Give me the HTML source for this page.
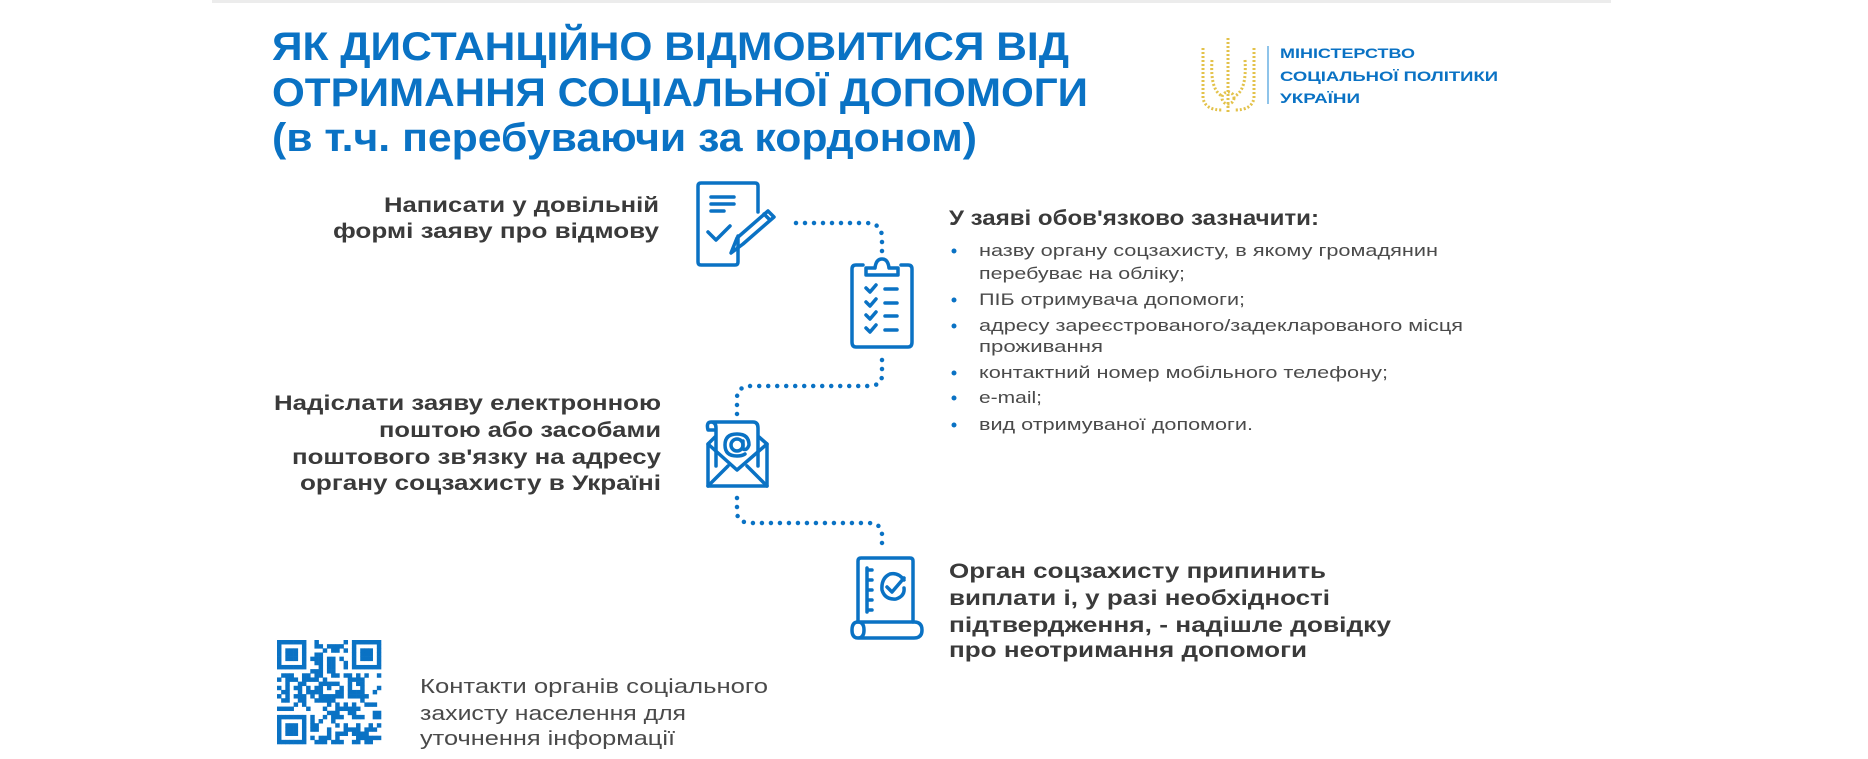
<!DOCTYPE html>
<html><head><meta charset="utf-8"><style>
html,body{margin:0;padding:0;background:#fff;width:1868px;height:759px;overflow:hidden}
svg{display:block}
.t{font-family:"Liberation Sans",sans-serif;font-weight:bold;fill:#0a72c4;font-size:40px}
.b{font-family:"Liberation Sans",sans-serif;font-weight:bold;fill:#3a3a3a;font-size:21px}
.r{font-family:"Liberation Sans",sans-serif;fill:#4a4a4a;font-size:17px}
.c{font-family:"Liberation Sans",sans-serif;fill:#4a4a4a;font-size:20px}
.m{font-family:"Liberation Sans",sans-serif;font-weight:bold;fill:#0a72c4;font-size:14px}
.ic{fill:none;stroke:#0a72c4;stroke-width:3.5;stroke-linecap:round;stroke-linejoin:round}
.dot{fill:none;stroke:#0a72c4;stroke-width:4.5;stroke-linecap:round;stroke-dasharray:0 9}
</style></head><body>
<svg width="1868" height="759" viewBox="0 0 1868 759" xmlns="http://www.w3.org/2000/svg">
<rect x="212" y="0" width="1399" height="3" fill="#ececec"/>
<text class="t" x="272" y="60" textLength="797" lengthAdjust="spacingAndGlyphs">ЯК ДИСТАНЦІЙНО ВІДМОВИТИСЯ ВІД</text>
<text class="t" x="272" y="106" textLength="816" lengthAdjust="spacingAndGlyphs">ОТРИМАННЯ СОЦІАЛЬНОЇ ДОПОМОГИ</text>
<text class="t" x="272" y="151" textLength="705" lengthAdjust="spacingAndGlyphs">(в т.ч. перебуваючи за кордоном)</text>

<!-- logo -->
<g fill="none" stroke="#e3c24a" stroke-width="3" stroke-dasharray="2 2">
<path d="M1228 38 L1228 112"/>
<path d="M1203 48 L1203 98 Q1205 110 1222 110"/>
<path d="M1254 48 L1254 98 Q1252 110 1235 110"/>
<path d="M1212 60 Q1210 90 1222 96 M1245 60 Q1247 90 1235 96"/>
<circle cx="1228" cy="98" r="6"/>
</g>
<rect x="1267" y="46" width="2" height="58" fill="#8fc4ea"/>
<text class="m" x="1280" y="58" textLength="135" lengthAdjust="spacingAndGlyphs">МІНІСТЕРСТВО</text>
<text class="m" x="1280" y="81" textLength="218" lengthAdjust="spacingAndGlyphs">СОЦІАЛЬНОЇ ПОЛІТИКИ</text>
<text class="m" x="1280" y="103" textLength="80" lengthAdjust="spacingAndGlyphs">УКРАЇНИ</text>

<!-- step 1 -->
<text class="b" x="384" y="212" textLength="275" lengthAdjust="spacingAndGlyphs">Написати у довільній</text>
<text class="b" x="333" y="238" textLength="326" lengthAdjust="spacingAndGlyphs">формі заяву  про відмову</text>

<!-- icon1 -->
<g class="ic">
<path d="M738 236 L738 262 Q738 265 735 265 L701 265 Q698 265 698 262 L698 186 Q698 183 701 183 L755 183 Q758 183 758 186 L758 212"/>
<path d="M711 197 H734 M711 204 H734 M711 211 H724"/>
<path d="M708 232 L716 240 L730 226"/>
<path d="M731 253 L737 238 L768 211 L774 217 L743 244 Z M764 214 L770 220"/>
</g>
<path class="dot" d="M796 223 H866 Q882 223 882 238 V252"/>

<!-- icon2 clipboard -->
<g class="ic">
<path d="M863 265 H856 Q852 265 852 269 V342 Q852 347 856 347 H908 Q912 347 912 342 V269 Q912 265 908 265 H901"/>
<path d="M866 275 V268 H875 Q876 259 882 259 Q888 259 889 268 H898 V275 Z"/>
<path d="M866 288 L870 292 L876 285 M866 302 L870 306 L876 299 M866 315 L870 319 L876 312 M866 328 L870 332 L876 325"/>
<path d="M885 289 H897 M885 303 H897 M885 316 H897 M885 330 H897"/>
</g>
<path class="dot" d="M882 360 V375 Q882 386 868 386 H752 Q737 386 737 398 V415"/>

<!-- step 2 -->
<text class="b" x="274" y="410" textLength="387" lengthAdjust="spacingAndGlyphs">Надіслати заяву електронною</text>
<text class="b" x="379" y="437" textLength="282" lengthAdjust="spacingAndGlyphs">поштою або засобами</text>
<text class="b" x="292" y="464" textLength="369" lengthAdjust="spacingAndGlyphs">поштового зв'язку на адресу</text>
<text class="b" x="300" y="490" textLength="361" lengthAdjust="spacingAndGlyphs">органу соцзахисту в Україні</text>

<!-- icon3 envelope -->
<g class="ic">
<path d="M715 437 L708 444 V486 H767 V444 L759 437"/>
<path d="M708 444 L737 470 L767 444 M708 486 L728 466 M767 486 L747 466"/>
<path d="M716 466 V428 Q716 422 711 422 Q706 422 708 430 H716 M711 422 H753 Q758 422 758 428 V466"/>
<circle cx="737" cy="445" r="6"/>
<path d="M743 441 V449 Q747 451 749 445 Q749 434 737 434 Q725 434 725 445 Q725 456 737 456 Q742 456 745 454"/>
</g>
<path class="dot" d="M737 498 V512 Q737 523 752 523 H868 Q882 523 882 535 V550"/>

<!-- icon4 -->
<g class="ic">
<path d="M858 622 V561 Q858 558 861 558 H910 Q913 558 913 561 V622"/>
<path d="M858 622 Q852 622 852 630 Q852 638 858 638 H914 Q922 638 922 630 Q922 622 914 622 H858 Q864 622 864 630 Q864 638 858 638"/>
<path d="M867 568 V612 M867 570 H872 M867 580 H872 M867 590 H872 M867 600 H872 M867 610 H872"/>
<path d="M904 580 Q898 572 890 574 Q881 578 882 590 Q885 600 896 599 Q905 596 904 588"/>
<path d="M887 587 L892 592 L904 578"/>
</g>

<!-- right column -->
<text class="b" x="949" y="225" textLength="370" lengthAdjust="spacingAndGlyphs">У заяві обов'язково зазначити:</text>
<g fill="#0a72c4">
<circle cx="954" cy="251" r="2.5"/><circle cx="954" cy="300" r="2.5"/><circle cx="954" cy="326" r="2.5"/>
<circle cx="954" cy="373" r="2.5"/><circle cx="954" cy="398" r="2.5"/><circle cx="954" cy="425" r="2.5"/>
</g>
<text class="r" x="979" y="256" textLength="459" lengthAdjust="spacingAndGlyphs">назву органу соцзахисту, в якому громадянин</text>
<text class="r" x="979" y="279" textLength="206" lengthAdjust="spacingAndGlyphs">перебуває на обліку;</text>
<text class="r" x="979" y="305" textLength="266" lengthAdjust="spacingAndGlyphs">ПІБ отримувача допомоги;</text>
<text class="r" x="979" y="331" textLength="484" lengthAdjust="spacingAndGlyphs">адресу зареєстрованого/задекларованого місця</text>
<text class="r" x="979" y="352" textLength="124" lengthAdjust="spacingAndGlyphs">проживання</text>
<text class="r" x="979" y="378" textLength="409" lengthAdjust="spacingAndGlyphs">контактний номер мобільного телефону;</text>
<text class="r" x="979" y="403" textLength="63" lengthAdjust="spacingAndGlyphs">e-mail;</text>
<text class="r" x="979" y="430" textLength="274" lengthAdjust="spacingAndGlyphs">вид отримуваної допомоги.</text>

<text class="b" x="949" y="578" textLength="377" lengthAdjust="spacingAndGlyphs">Орган соцзахисту припинить</text>
<text class="b" x="949" y="605" textLength="381" lengthAdjust="spacingAndGlyphs">виплати і, у разі необхідності</text>
<text class="b" x="949" y="632" textLength="442" lengthAdjust="spacingAndGlyphs">підтвердження, - надішле довідку</text>
<text class="b" x="949" y="657" textLength="358" lengthAdjust="spacingAndGlyphs">про неотримання допомоги</text>

<!-- QR -->
<g id="qr" fill="#0a72c4"></g>

<text class="c" x="420" y="693" textLength="348" lengthAdjust="spacingAndGlyphs">Контакти органів соціального</text>
<text class="c" x="420" y="720" textLength="266" lengthAdjust="spacingAndGlyphs">захисту населення для</text>
<text class="c" x="420" y="745" textLength="255" lengthAdjust="spacingAndGlyphs">уточнення інформації</text>
</svg>
<script>
(function(){
var g=document.getElementById('qr'),N=25,s=104/N,x0=277,y0=640,seed=7;
function rnd(){seed=(seed*1103515245+12345)&0x7fffffff;return seed/0x7fffffff;}
function fin(cx,cy){return cx<8&&cy<8;}
var h='';
for(var y=0;y<N;y++)for(var x=0;x<N;x++){
 var on=false,inF=false;
 [[0,0],[N-7,0],[0,N-7]].forEach(function(p){
  var dx=x-p[0],dy=y-p[1];
  if(dx>=-1&&dx<=7&&dy>=-1&&dy<=7){inF=true;
   if(dx>=0&&dx<=6&&dy>=0&&dy<=6){var e=Math.max(Math.abs(dx-3),Math.abs(dy-3));on=(e!=2);}
  }});
 if(!inF)on=rnd()<0.5;
 if(on)h+='<rect x="'+(x0+x*s)+'" y="'+(y0+y*s)+'" width="'+(s+0.3)+'" height="'+(s+0.3)+'"/>';
}
g.innerHTML=h;
})();
</script>
</body></html>
